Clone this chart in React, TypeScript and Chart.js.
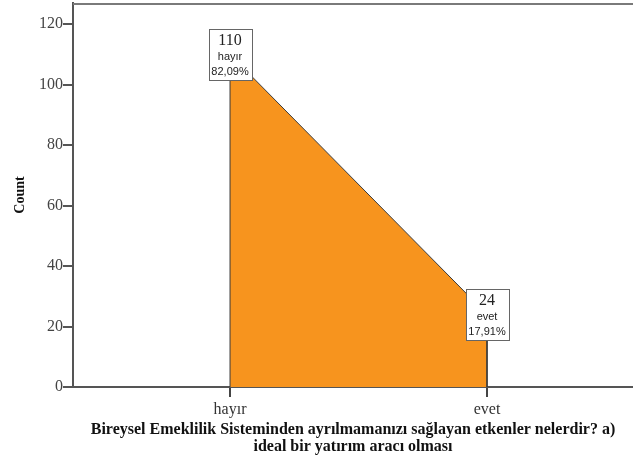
import React, { useEffect, useRef } from "react";
import { Chart, registerables } from "chart.js";

Chart.register(...registerables);

const categories = ["hayır", "evet"];
const counts = [110, 24];
const yTicks = [0, 20, 40, 60, 80, 100, 120];
const xTitle = [
  "Bireysel Emeklilik Sisteminden ayrılmamanızı sağlayan etkenler nelerdir? a)",
  "ideal bir yatırım aracı olması",
];
const yTitle = "Count";

const total = counts.reduce((a, b) => a + b, 0);
const pctLabel = (c: number) => ((c / total) * 100).toFixed(2).replace(".", ",") + "%";

const labelPlugin = {
  id: "boxLabels",
  afterDatasetsDraw(chart: any) {
    const { ctx, chartArea, scales } = chart;
    const x = scales.x;
    const y = scales.y;
    ctx.save();
    // top frame line
    ctx.strokeStyle = "#7a7a7a";
    ctx.lineWidth = 2;
    ctx.beginPath();
    ctx.moveTo(chartArea.left, chartArea.top + 1);
    ctx.lineTo(chart.width, chartArea.top + 1);
    ctx.stroke();

    counts.forEach((c, i) => {
      const px = x.getPixelForValue(i);
      const py = y.getPixelForValue(c);
      const w = 43;
      const h = 51;
      const bx = Math.round(px - w / 2) + 0.5;
      const by = Math.round(py - h / 2) + 0.5;
      ctx.fillStyle = "#ffffff";
      ctx.fillRect(bx, by, w, h);
      ctx.strokeStyle = "#666";
      ctx.lineWidth = 1;
      ctx.strokeRect(bx, by, w, h);
      ctx.textAlign = "center";
      ctx.textBaseline = "middle";
      ctx.fillStyle = "#222";
      ctx.font = '16px "Liberation Serif"';
      ctx.fillText(String(c), px, by + 11);
      ctx.font = '11px "Liberation Sans"';
      ctx.fillText(categories[i], px, by + 27);
      ctx.fillText(pctLabel(c), px, by + 42);
    });
    ctx.restore();
  },
};

export default function App() {
  const ref = useRef<HTMLCanvasElement>(null);
  useEffect(() => {
    if (!ref.current) return;
    const points: { x: number; y: number }[] = [];
    points.push({ x: 0, y: 0 });
    counts.forEach((c, i) => points.push({ x: i, y: c }));
    points.push({ x: counts.length - 1, y: 0 });

    const chart = new Chart(ref.current, {
      type: "line",
      data: {
        datasets: [
          {
            data: points,
            fill: "origin",
            backgroundColor: "#F7941E",
            borderColor: "#3a3a3a",
            borderWidth: 1,
            pointRadius: 0,
            tension: 0,
          },
        ],
      },
      options: {
        responsive: false,
        animation: false,
        layout: { padding: { top: 3, left: 0, right: 0, bottom: 0 } },
        plugins: {
          legend: { display: false },
          tooltip: { enabled: false },
        },
        scales: {
          x: {
            type: "linear",
            min: -0.611,
            max: 1.568,
            afterBuildTicks: (s: any) => {
              s.ticks = categories.map((_, i) => ({ value: i }));
            },
            afterFit: (s: any) => {
              s.height = 69;
              s.paddingLeft = 0;
              s.paddingRight = 0;
            },
            ticks: {
              callback: (v: any) => categories[Number(v)] ?? "",
              font: { family: '"Liberation Serif"', size: 16 },
              color: "#333",
              padding: 3,
              maxRotation: 0,
            },
            grid: {
              drawOnChartArea: false,
              drawTicks: true,
              tickLength: 10,
              color: "#444",
              lineWidth: 2,
            },
            border: { display: true, color: "#555", width: 2 },
            title: {
              display: true,
              text: xTitle,
              font: { family: '"Liberation Serif"', size: 16, weight: "bold", lineHeight: 1.05 },
              color: "#111",
              padding: { top: 0, bottom: 1 },
            },
          },
          y: {
            type: "linear",
            min: 0,
            max: 127,
            afterBuildTicks: (s: any) => {
              s.ticks = yTicks.map((v) => ({ value: v }));
            },
            afterFit: (s: any) => {
              s.width = 73;
              s.paddingTop = 0;
              s.paddingBottom = 0;
            },
            ticks: {
              font: { family: '"Liberation Serif"', size: 16 },
              color: "#444",
              padding: 0,
            },
            grid: {
              drawOnChartArea: false,
              drawTicks: true,
              tickLength: 10,
              color: "#555",
              lineWidth: 2,
            },
            border: { display: true, color: "#555", width: 2 },
            title: {
              display: true,
              text: yTitle,
              font: { family: '"Liberation Serif"', size: 14, weight: "bold" },
              color: "#111",
              padding: { top: 12, bottom: 0 },
            },
          },
        },
      },
      plugins: [labelPlugin],
    } as any);
    return () => chart.destroy();
  }, []);

  return (
    <div style={{ position: "fixed", left: 0, top: 0, width: 633, height: 456, background: "#fff" }}>
      <canvas ref={ref} width={633} height={456} />
    </div>
  );
}
